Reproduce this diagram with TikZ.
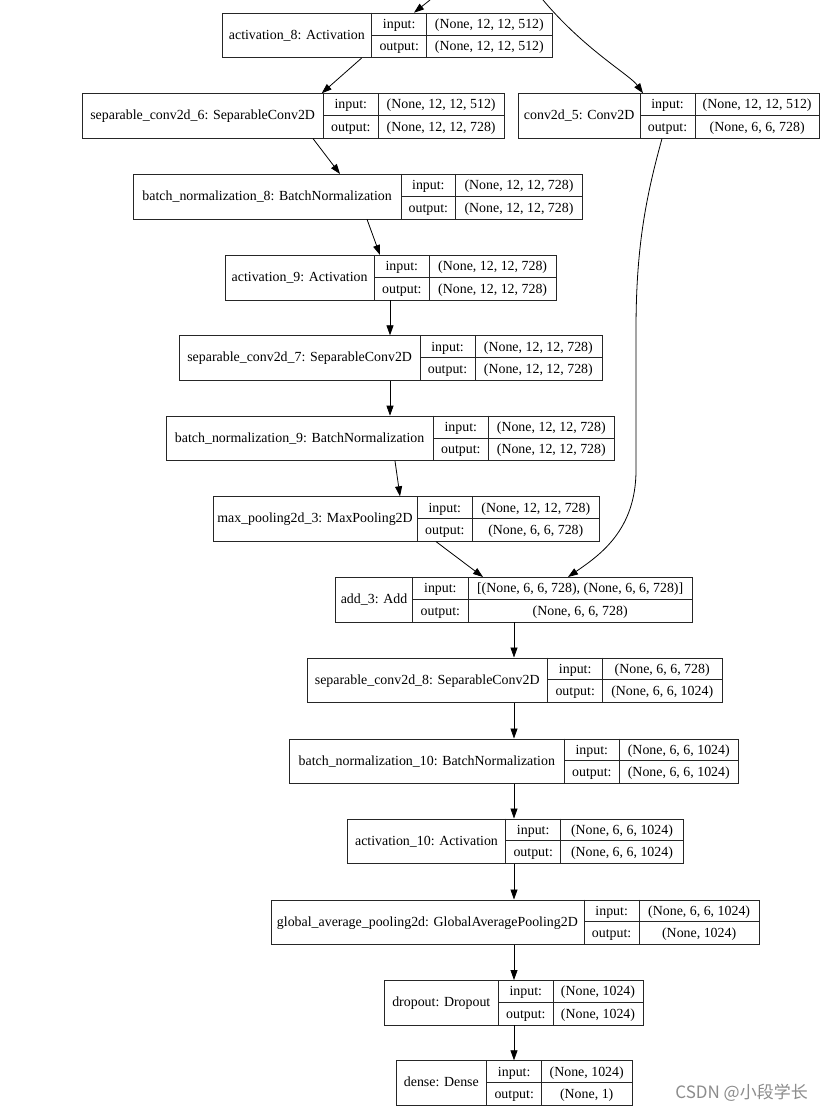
\documentclass[tikz,border=0pt]{standalone}
\usepackage{fontspec}
\setmainfont{Liberation Serif}
\newfontfamily\cjk{Noto Sans CJK SC}
\usetikzlibrary{arrows.meta}
\tikzset{
  box/.style={draw=black!85, line width=0.8pt, inner sep=0pt, anchor=north west},
  cell/.style={draw=black!85, line width=0.8pt},
  txt/.style={font=\fontsize{13.9}{16}\selectfont, inner sep=0pt, anchor=base},
  arr/.style={draw=black, line width=0.8pt, -{Triangle[length=10pt,width=7pt]}},
  wmark/.style={font=\cjk\fontsize{17}{19}\selectfont, text=black!45, anchor=east, inner sep=0pt},
}
% #1 id, #2 left, #3 div1, #4 div2, #5 right, #6 top, #7 title, #8 input, #9 output
\newcommand{\layerbox}[9]{%
  \node[box, minimum width={(#5-#2)*1pt}, minimum height=44.5pt] (#1) at (#2,#6) {};
  \draw[cell] (#3,#6) -- (#3,{#6+44.5}) (#4,#6) -- (#4,{#6+44.5})
              (#3,{#6+22.25}) -- (#5,{#6+22.25});
  \node[txt] at ({(#2+#3)/2},{#6+26.6}) {#7};
  \node[txt] at ({(#3+#4)/2},{#6+15.7}) {input:};
  \node[txt] at ({(#3+#4)/2},{#6+38.0}) {output:};
  \node[txt] at ({(#4+#5)/2},{#6+15.7}) {#8};
  \node[txt] at ({(#4+#5)/2},{#6+38.0}) {#9};
}
\begin{document}
\begin{tikzpicture}[x=1pt,y=-1pt]
\fill[white] (0,0) rectangle (824,1110);
\useasboundingbox (0,0) rectangle (824,1110);

\layerbox{act8}{222}{371.7}{426.7}{552}{12.7}{activation\_8: Activation}{(None, 12, 12, 512)}{(None, 12, 12, 512)}
\layerbox{sep6}{82}{323.3}{378.3}{504}{93.3}{separable\_conv2d\_6: SeparableConv2D}{(None, 12, 12, 512)}{(None, 12, 12, 728)}
\layerbox{conv5}{518.3}{640}{695}{819.3}{93.3}{conv2d\_5: Conv2D}{(None, 12, 12, 512)}{(None, 6, 6, 728)}
\layerbox{bn8}{133.3}{401}{455.7}{582.3}{174}{batch\_normalization\_8: BatchNormalization}{(None, 12, 12, 728)}{(None, 12, 12, 728)}
\layerbox{act9}{225}{374.3}{429.3}{556}{255}{activation\_9: Activation}{(None, 12, 12, 728)}{(None, 12, 12, 728)}
\layerbox{sep7}{179.3}{420}{475}{601.7}{335.3}{separable\_conv2d\_7: SeparableConv2D}{(None, 12, 12, 728)}{(None, 12, 12, 728)}
\layerbox{bn9}{166}{433.3}{488.3}{614.3}{415.7}{batch\_normalization\_9: BatchNormalization}{(None, 12, 12, 728)}{(None, 12, 12, 728)}
\layerbox{mp3}{212.7}{417.3}{472.3}{599.3}{496.3}{max\_pooling2d\_3: MaxPooling2D}{(None, 12, 12, 728)}{(None, 6, 6, 728)}
\layerbox{add3}{335.3}{412.7}{468}{692.3}{577}{add\_3: Add}{[(None, 6, 6, 728), (None, 6, 6, 728)]}{(None, 6, 6, 728)}
\layerbox{sep8}{306.7}{547.7}{602.7}{721.7}{657.5}{separable\_conv2d\_8: SeparableConv2D}{(None, 6, 6, 728)}{(None, 6, 6, 1024)}
\layerbox{bn10}{289.3}{564.3}{619.3}{738.3}{738.5}{batch\_normalization\_10: BatchNormalization}{(None, 6, 6, 1024)}{(None, 6, 6, 1024)}
\layerbox{act10}{347.3}{505.7}{560.7}{683.3}{818.5}{activation\_10: Activation}{(None, 6, 6, 1024)}{(None, 6, 6, 1024)}
\layerbox{gap}{270.7}{584}{639.3}{759}{899.5}{global\_average\_pooling2d: GlobalAveragePooling2D}{(None, 6, 6, 1024)}{(None, 1024)}
\layerbox{drop}{384.3}{498.3}{553.3}{642.7}{980}{dropout: Dropout}{(None, 1024)}{(None, 1024)}
\layerbox{dense}{396}{486.7}{541.7}{631.7}{1060.3}{dense: Dense}{(None, 1024)}{(None, 1)}

\coordinate (in1) at (430,0);
\coordinate (in2) at (543,0);
\draw[arr] (in1) -- ([xshift=192pt]act8.north west);
\draw[arr] (in2) .. controls (585,50) and (630,75) .. ([xshift=124.7pt]conv5.north west);
\draw[arr] ([xshift=139.7pt]act8.south west) -- ([xshift=239.7pt]sep6.north west);
\draw[arr] ([xshift=231pt]sep6.south west) -- ([xshift=206.7pt]bn8.north west);
\draw[arr] ([xshift=233.7pt]bn8.south west) -- ([xshift=155pt]act9.north west);
\draw[arr] ([xshift=165pt]act9.south west) -- ([xshift=210.7pt]sep7.north west);
\draw[arr] ([xshift=210.7pt]sep7.south west) -- ([xshift=224pt]bn9.north west);
\draw[arr] ([xshift=229pt]bn9.south west) -- ([xshift=187.3pt]mp3.north west);
\draw[arr] ([xshift=223.3pt]mp3.south west) -- ([xshift=147.7pt]add3.north west);
\draw[arr] ([xshift=143.7pt]conv5.south west) .. controls (645,200) and (636,250) .. (636,330)
  -- (636,470) .. controls (636,530) and (600,555) .. ([xshift=232.7pt]add3.north west);
\draw[arr] ([xshift=178.7pt]add3.south west) -- ([xshift=207.3pt]sep8.north west);
\draw[arr] ([xshift=207.3pt]sep8.south west) -- ([xshift=224.7pt]bn10.north west);
\draw[arr] ([xshift=224.7pt]bn10.south west) -- ([xshift=166.7pt]act10.north west);
\draw[arr] ([xshift=166.7pt]act10.south west) -- ([xshift=243.3pt]gap.north west);
\draw[arr] ([xshift=243.3pt]gap.south west) -- ([xshift=129.7pt]drop.north west);
\draw[arr] ([xshift=129.7pt]drop.south west) -- ([xshift=118pt]dense.north west);

\node[wmark] (wm) at (808,1093) {CSDN @小段学长};
\end{tikzpicture}
\end{document}
